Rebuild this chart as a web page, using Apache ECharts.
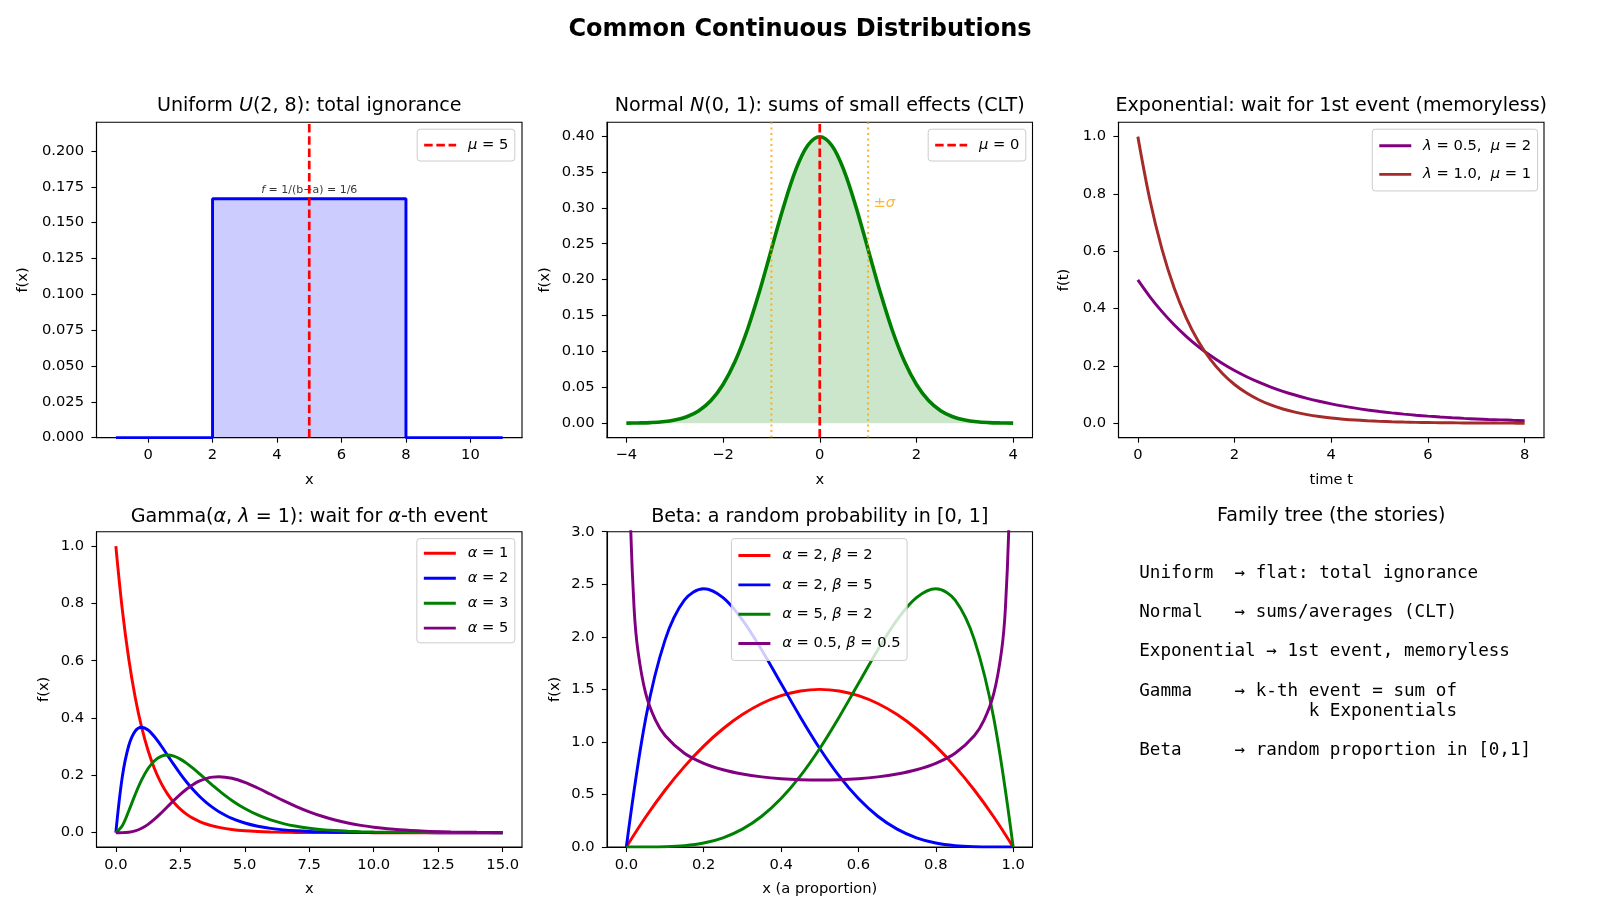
<!DOCTYPE html>
<html>
<head>
    <meta charset="utf-8"/>
    <title>Common Continuous Distributions</title>
    <script src="https://cdn.jsdelivr.net/npm/echarts@6.0.0/dist/echarts.min.js"></script>
    <style>
        html, body { margin: 0; padding: 0; background: #fff; }
        #main { width: 1600px; height: 914px; }
    </style>
</head>
<body>
<div id="main"></div>
<script>
    // ---- data ----
    // Uniform U(2,8)
    var uniX = [-1, 2, 2, 8, 8, 11];
    var uniY = [0, 0, 0.1667, 0.1667, 0, 0];
    var uniMean = 5;

    // Normal N(0,1)
    var normX = [-4, -3.75, -3.5, -3.25, -3, -2.75, -2.5, -2.25, -2, -1.75, -1.5, -1.25, -1, -0.75, -0.5, -0.25,
        0, 0.25, 0.5, 0.75, 1, 1.25, 1.5, 1.75, 2, 2.25, 2.5, 2.75, 3, 3.25, 3.5, 3.75, 4];
    var normY = [0.0001, 0.0004, 0.0009, 0.0020, 0.0044, 0.0091, 0.0175, 0.0317, 0.0540, 0.0863, 0.1295, 0.1826,
        0.2420, 0.3011, 0.3521, 0.3867, 0.3989, 0.3867, 0.3521, 0.3011, 0.2420, 0.1826, 0.1295, 0.0863, 0.0540,
        0.0317, 0.0175, 0.0091, 0.0044, 0.0020, 0.0009, 0.0004, 0.0001];
    var normMean = 0;
    var normSigma = [-1, 1];

    // Exponential
    var expX = [0, 0.25, 0.5, 0.75, 1, 1.25, 1.5, 1.75, 2, 2.25, 2.5, 2.75, 3, 3.25, 3.5, 3.75, 4,
        4.25, 4.5, 4.75, 5, 5.25, 5.5, 5.75, 6, 6.25, 6.5, 6.75, 7, 7.25, 7.5, 7.75, 8];
    var expHalf = [0.5000, 0.4412, 0.3894, 0.3436, 0.3033, 0.2676, 0.2362, 0.2084, 0.1839, 0.1623, 0.1433, 0.1264,
        0.1116, 0.0985, 0.0869, 0.0767, 0.0677, 0.0597, 0.0527, 0.0465, 0.0410, 0.0362, 0.0320, 0.0282, 0.0249,
        0.0220, 0.0194, 0.0171, 0.0151, 0.0133, 0.0118, 0.0104, 0.0092];
    var expOne = [1.0000, 0.7788, 0.6065, 0.4724, 0.3679, 0.2865, 0.2231, 0.1738, 0.1353, 0.1054, 0.0821, 0.0639,
        0.0498, 0.0388, 0.0302, 0.0235, 0.0183, 0.0143, 0.0111, 0.0087, 0.0067, 0.0052, 0.0041, 0.0032, 0.0025,
        0.0019, 0.0015, 0.0012, 0.0009, 0.0007, 0.0006, 0.0004, 0.0003];

    // Gamma(alpha, 1)
    var gamX = [0, 0.25, 0.5, 0.75, 1, 1.25, 1.5, 1.75, 2, 2.25, 2.5, 2.75, 3, 3.25, 3.5, 3.75, 4,
        4.5, 5, 5.5, 6, 6.5, 7, 7.5, 8, 8.5, 9, 9.5, 10, 11, 12, 13, 14, 15];
    var gam1 = [1.0000, 0.7788, 0.6065, 0.4724, 0.3679, 0.2865, 0.2231, 0.1738, 0.1353, 0.1054, 0.0821, 0.0639,
        0.0498, 0.0388, 0.0302, 0.0235, 0.0183, 0.0111, 0.0067, 0.0041, 0.0025, 0.0015, 0.0009, 0.0006, 0.0003,
        0.0002, 0.0001, 0.0001, 0, 0, 0, 0, 0, 0];
    var gam2 = [0, 0.1947, 0.3033, 0.3543, 0.3679, 0.3581, 0.3347, 0.3041, 0.2707, 0.2371, 0.2052, 0.1758,
        0.1494, 0.1260, 0.1057, 0.0882, 0.0733, 0.0500, 0.0337, 0.0225, 0.0149, 0.0098, 0.0064, 0.0041, 0.0027,
        0.0017, 0.0011, 0.0007, 0.0005, 0.0002, 0.0001, 0, 0, 0];
    var gam3 = [0, 0.0243, 0.0758, 0.1329, 0.1839, 0.2238, 0.2510, 0.2661, 0.2707, 0.2668, 0.2565, 0.2417,
        0.2240, 0.2048, 0.1850, 0.1653, 0.1465, 0.1125, 0.0842, 0.0618, 0.0446, 0.0318, 0.0223, 0.0156, 0.0107,
        0.0073, 0.0050, 0.0034, 0.0023, 0.0010, 0.0004, 0.0002, 0.0001, 0];
    var gam5 = [0, 0.0001, 0.0016, 0.0062, 0.0153, 0.0291, 0.0471, 0.0679, 0.0902, 0.1125, 0.1336, 0.1523,
        0.1680, 0.1804, 0.1888, 0.1937, 0.1954, 0.1898, 0.1755, 0.1558, 0.1339, 0.1118, 0.0912, 0.0729, 0.0573,
        0.0442, 0.0337, 0.0254, 0.0189, 0.0102, 0.0053, 0.0027, 0.0013, 0.0006];

    // Beta
    var betaX = [0, 0.05, 0.1, 0.15, 0.2, 0.25, 0.3, 0.35, 0.4, 0.45, 0.5, 0.55, 0.6, 0.65, 0.7, 0.75, 0.8,
        0.85, 0.9, 0.95, 1];
    var beta22 = [0, 0.285, 0.54, 0.765, 0.96, 1.125, 1.26, 1.365, 1.44, 1.485, 1.5, 1.485, 1.44, 1.365, 1.26,
        1.125, 0.96, 0.765, 0.54, 0.285, 0];
    var beta25 = [0, 1.2218, 1.9683, 2.3490, 2.4576, 2.3730, 2.1609, 1.8743, 1.5552, 1.2354, 0.9375, 0.6766,
        0.4608, 0.2927, 0.1701, 0.0879, 0.0384, 0.0129, 0.0027, 0.0002, 0];
    var beta52 = [0, 0.0002, 0.0027, 0.0129, 0.0384, 0.0879, 0.1701, 0.2927, 0.4608, 0.6766, 0.9375, 1.2354,
        1.5552, 1.8743, 2.1609, 2.3730, 2.4576, 2.3490, 1.9683, 1.2218, 0];
    var arcX = [0.003, 0.005, 0.01, 0.02, 0.03, 0.05, 0.075, 0.1, 0.15, 0.2, 0.25, 0.3, 0.35, 0.4, 0.45, 0.5,
        0.55, 0.6, 0.65, 0.7, 0.75, 0.8, 0.85, 0.9, 0.925, 0.95, 0.97, 0.98, 0.99, 0.995, 0.997];
    var arcY = [5.820, 4.513, 3.199, 2.274, 1.866, 1.461, 1.2085, 1.061, 0.8914, 0.7958, 0.7351, 0.6946, 0.6674,
        0.6497, 0.6398, 0.6366, 0.6398, 0.6497, 0.6674, 0.6946, 0.7351, 0.7958, 0.8914, 1.061, 1.2085, 1.461,
        1.866, 2.274, 3.199, 4.513, 5.820];

    // tick labels
    var uniXTicks = [0, 2, 4, 6, 8, 10];
    var uniYTicks = [0, 0.025, 0.05, 0.075, 0.1, 0.125, 0.15, 0.175, 0.2];
    var normXTicks = [-4, -2, 0, 2, 4];
    var normYTicks = [0, 0.05, 0.1, 0.15, 0.2, 0.25, 0.3, 0.35, 0.4];
    var expXTicks = [0, 2, 4, 6, 8];
    var expYTicks = [0, 0.2, 0.4, 0.6, 0.8, 1.0];
    var gamXTicks = [0, 2.5, 5, 7.5, 10, 12.5, 15];
    var gamYTicks = [0, 0.2, 0.4, 0.6, 0.8, 1.0];
    var betaXTicks = [0, 0.2, 0.4, 0.6, 0.8, 1.0];
    var betaYTicks = [0, 0.5, 1, 1.5, 2, 2.5, 3];

    var storyLines = [
        'Uniform  → flat: total ignorance',
        '',
        'Normal   → sums/averages (CLT)',
        '',
        'Exponential → 1st event, memoryless',
        '',
        'Gamma    → k-th event = sum of',
        '                k Exponentials',
        '',
        'Beta     → random proportion in [0,1]'
    ];

    // ---- layout / style ----
    var FONT = 'DejaVu Sans';
    var FS = 14.7;                 // 10pt
    var TFS = 19.1;                // subplot titles
    var LW = 2.94;                 // 2pt
    var DASH = [8.5, 3.7];
    var colLeft = [96.5, 607, 1118.5];
    var colW = 425.5;
    var rowTop = [122.3, 531.7];
    var rowH = 315.3;

    function pairs(xs, ys) {
        return xs.map(function (x, i) { return [x, ys[i]]; });
    }

    function fmt(d) {
        return function (v) { return v.toFixed(d).replace('-', '\u2212'); };
    }

    function greek(name) {
        return name.replace(/([μλαβσ])/g, '{i|$1}');
    }

    var italic = {fontStyle: 'italic', fontFamily: FONT, fontSize: FS, color: '#000'};

    function grid(c, r) {
        return {
            left: colLeft[c], top: rowTop[r], width: colW, height: rowH,
            show: true, borderColor: '#000', borderWidth: 1.1, backgroundColor: 'transparent'
        };
    }

    function axis(idx, min, max, ticks, digits, name, gap, isY) {
        return {
            type: 'value', gridIndex: idx, min: min, max: max,
            name: name, nameLocation: 'middle', nameGap: gap,
            nameTextStyle: {fontFamily: FONT, fontSize: FS, color: '#000'},
            axisLine: {show: true, onZero: false, lineStyle: {color: '#000', width: 1.1}},
            axisTick: {show: true, length: 5.1, customValues: ticks, lineStyle: {color: '#000', width: 1.1}},
            axisLabel: {
                customValues: ticks, formatter: fmt(digits), color: '#000',
                fontFamily: FONT, fontSize: FS, margin: isY ? 12.5 : 10.5
            },
            splitLine: {show: false}
        };
    }

    function line(name, xi, xs, ys, color, extra) {
        var s = {
            name: name, type: 'line', xAxisIndex: xi, yAxisIndex: xi,
            data: pairs(xs, ys), symbol: 'none', smooth: 0.35,
            itemStyle: {color: color},
            lineStyle: {color: color, width: LW}
        };
        for (var k in extra) s[k] = extra[k];
        return s;
    }

    function legend(names, pos, lh) {
        var l = {
            data: names, orient: 'vertical', itemWidth: 32, itemHeight: 14, itemGap: 7.35,
            padding: [5.9, 6.5, 5.9, 5.5], backgroundColor: 'rgba(255,255,255,0.8)',
            borderColor: '#cccccc', borderWidth: 1, borderRadius: 3,
            selectedMode: false,
            itemStyle: {opacity: 0, borderWidth: 0},
            lineStyle: {width: LW},
            formatter: greek,
            textStyle: {
                fontFamily: FONT, fontSize: FS, color: '#000', lineHeight: lh, padding: [0, 0, 0, 6.8],
                rich: {i: italic}
            }
        };
        for (var k in pos) l[k] = pos[k];
        return l;
    }

    function label(xi, pt, text, opts) {
        return {
            type: 'scatter', xAxisIndex: xi, yAxisIndex: xi, silent: true,
            data: [pt], symbolSize: 1, itemStyle: {color: 'rgba(0,0,0,0)'},
            label: Object.assign({show: true, formatter: text, fontFamily: FONT}, opts)
        };
    }

    function title(x, y, text) {
        return {
            type: 'text', x: x, y: y, silent: true,
            style: {
                text: text, fill: '#000', fontFamily: FONT, fontSize: TFS,
                align: 'center', verticalAlign: 'middle',
                rich: {i: {fontStyle: 'italic', fontFamily: FONT, fontSize: TFS, fill: '#000'}}
            }
        };
    }

    var cx = colLeft.map(function (l) { return l + colW / 2; });

    var option = {
        animation: false,
        backgroundColor: '#fff',
        grid: [grid(0, 0), grid(1, 0), grid(2, 0), grid(0, 1), grid(1, 1)],
        xAxis: [
            axis(0, -1.6, 11.6, uniXTicks, 0, 'x', 35),
            axis(1, -4.4, 4.4, normXTicks, 0, 'x', 35),
            axis(2, -0.4, 8.4, expXTicks, 0, 'time t', 35),
            axis(3, -0.75, 15.75, gamXTicks, 1, 'x', 35),
            axis(4, -0.05, 1.05, betaXTicks, 1, 'x (a proportion)', 35)
        ],
        yAxis: [
            axis(0, 0, 0.22, uniYTicks, 3, 'f(x)', 65.5, true),
            axis(1, -0.02, 0.419, normYTicks, 2, 'f(x)', 54.5, true),
            axis(2, -0.05, 1.05, expYTicks, 1, 'f(t)', 46.5, true),
            axis(3, -0.05, 1.05, gamYTicks, 1, 'f(x)', 44.5, true),
            axis(4, 0, 3, betaYTicks, 1, 'f(x)', 44.5, true)
        ],
        legend: [
            legend(['μ = 5'], {right: 1600 - 514.8, top: 129.2}, 20),
            legend(['μ = 0'], {right: 1600 - 1025.8, top: 129.2}, 20),
            legend(['λ = 0.5,  μ = 2', 'λ = 1.0,  μ = 1'], {right: 1600 - 1537.6, top: 129.2}, 21.3),
            legend(['α = 1', 'α = 2', 'α = 3', 'α = 5'], {right: 1600 - 514.8, top: 538.6}, 17.6),
            legend(['α = 2, β = 2', 'α = 2, β = 5', 'α = 5, β = 2', 'α = 0.5, β = 0.5'], {left: 731.4, top: 538.6}, 22)
        ],
        series: [
            // uniform
            line('uniform', 0, uniX, uniY, '#0000ff', {
                smooth: false, areaStyle: {color: '#0000ff', opacity: 0.2, origin: 0}
            }),
            line('μ = 5', 0, [uniMean, uniMean], [0, 0.22], '#ff0000', {
                smooth: false, lineStyle: {color: '#ff0000', width: 2.7, type: DASH}
            }),
            label(0, [uniMean, 0.1667], '{i|f} = 1/(b\u2212a) = 1/6', {
                position: 'top', distance: 3, fontSize: 11, color: '#000',
                rich: {i: {fontStyle: 'italic', fontFamily: FONT, fontSize: 11, color: '#000'}}
            }),

            // normal
            line('normal', 1, normX, normY, '#008000', {
                lineStyle: {color: '#008000', width: 3.6},
                areaStyle: {color: '#008000', opacity: 0.2, origin: 0}
            }),
            line('μ = 0', 1, [normMean, normMean], [-0.02, 0.419], '#ff0000', {
                smooth: false, lineStyle: {color: '#ff0000', width: 2.7, type: DASH}
            }),
            line('sigmaL', 1, [normSigma[0], normSigma[0]], [-0.02, 0.419], '#ffa500', {
                smooth: false, lineStyle: {color: '#ffa500', width: 2.1, type: [2.1, 3.4], opacity: 0.8}
            }),
            line('sigmaR', 1, [normSigma[1], normSigma[1]], [-0.02, 0.419], '#ffa500', {
                smooth: false, lineStyle: {color: '#ffa500', width: 2.1, type: [2.1, 3.4], opacity: 0.8}
            }),
            label(1, [1.1, 0.307], '±{i|σ}', {
                position: 'right', distance: 0, fontSize: FS, color: '#ffa500',
                rich: {i: {fontStyle: 'italic', fontFamily: FONT, fontSize: FS, color: '#ffa500'}}
            }),

            // exponential
            line('λ = 0.5,  μ = 2', 2, expX, expHalf, '#800080'),
            line('λ = 1.0,  μ = 1', 2, expX, expOne, '#a52a2a'),

            // gamma
            line('α = 1', 3, gamX, gam1, '#ff0000'),
            line('α = 2', 3, gamX, gam2, '#0000ff'),
            line('α = 3', 3, gamX, gam3, '#008000'),
            line('α = 5', 3, gamX, gam5, '#800080'),

            // beta
            line('α = 2, β = 2', 4, betaX, beta22, '#ff0000'),
            line('α = 2, β = 5', 4, betaX, beta25, '#0000ff'),
            line('α = 5, β = 2', 4, betaX, beta52, '#008000'),
            line('α = 0.5, β = 0.5', 4, arcX, arcY, '#800080')
        ],
        graphic: [
            {
                type: 'text', x: 800, y: 30, silent: true,
                style: {
                    text: 'Common Continuous Distributions', fill: '#000', fontFamily: FONT,
                    fontSize: 24, fontWeight: 'bold', align: 'center', verticalAlign: 'middle'
                }
            },
            title(cx[0], 106.5, 'Uniform {i|U}(2, 8): total ignorance'),
            title(cx[1], 106.5, 'Normal {i|N}(0, 1): sums of small effects (CLT)'),
            title(cx[2], 106.5, 'Exponential: wait for 1st event (memoryless)'),
            title(cx[0], 516.7, 'Gamma({i|α}, {i|λ} = 1): wait for {i|α}-th event'),
            title(cx[1], 516.7, 'Beta: a random probability in [0, 1]'),
            title(cx[2], 516, 'Family tree (the stories)'),
            {
                type: 'text', x: 1139.2, y: 563.2, silent: true,
                style: {
                    text: storyLines.join('\n'), fill: '#000', fontFamily: 'DejaVu Sans Mono',
                    fontSize: 17.6, lineHeight: 19.7, align: 'left', verticalAlign: 'top'
                }
            }
        ]
    };

    var chart = echarts.init(document.getElementById('main'));
    chart.setOption(option);
</script>
</body>
</html>
